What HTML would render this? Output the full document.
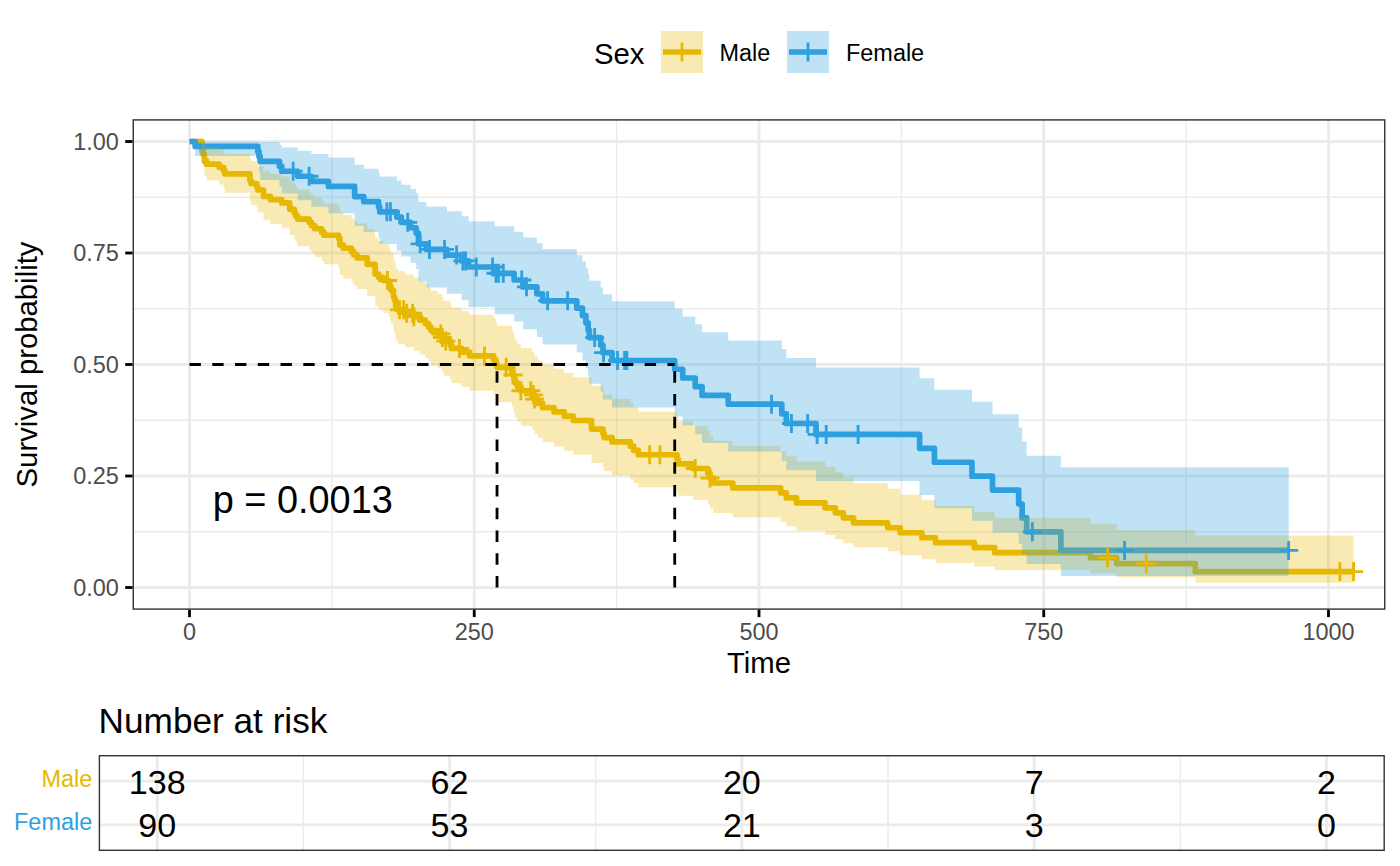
<!DOCTYPE html>
<html><head><meta charset="utf-8"><style>html,body{margin:0;padding:0;background:#fff;width:1400px;height:866px;overflow:hidden}</style></head><body>
<svg width="1400" height="866" viewBox="0 0 1400 866" style="position:absolute;left:0;top:0;display:block">
<rect x="0" y="0" width="1400" height="866" fill="#FFFFFF"/>
<defs><clipPath id="pc"><rect x="132.55" y="119.20" width="1252.90" height="490.60"/></clipPath>
<clipPath id="rc"><rect x="98.70" y="755.00" width="1286.20" height="96.00"/></clipPath></defs>
<g clip-path="url(#pc)">
<line x1="331.88" y1="119.20" x2="331.88" y2="609.80" stroke="#EBEBEB" stroke-width="1.42"/>
<line x1="616.62" y1="119.20" x2="616.62" y2="609.80" stroke="#EBEBEB" stroke-width="1.42"/>
<line x1="901.38" y1="119.20" x2="901.38" y2="609.80" stroke="#EBEBEB" stroke-width="1.42"/>
<line x1="1186.12" y1="119.20" x2="1186.12" y2="609.80" stroke="#EBEBEB" stroke-width="1.42"/>
<line x1="132.55" y1="531.75" x2="1385.45" y2="531.75" stroke="#EBEBEB" stroke-width="1.42"/>
<line x1="132.55" y1="420.25" x2="1385.45" y2="420.25" stroke="#EBEBEB" stroke-width="1.42"/>
<line x1="132.55" y1="308.75" x2="1385.45" y2="308.75" stroke="#EBEBEB" stroke-width="1.42"/>
<line x1="132.55" y1="197.25" x2="1385.45" y2="197.25" stroke="#EBEBEB" stroke-width="1.42"/>
<line x1="189.50" y1="119.20" x2="189.50" y2="609.80" stroke="#EBEBEB" stroke-width="2.84"/>
<line x1="474.25" y1="119.20" x2="474.25" y2="609.80" stroke="#EBEBEB" stroke-width="2.84"/>
<line x1="759.00" y1="119.20" x2="759.00" y2="609.80" stroke="#EBEBEB" stroke-width="2.84"/>
<line x1="1043.75" y1="119.20" x2="1043.75" y2="609.80" stroke="#EBEBEB" stroke-width="2.84"/>
<line x1="1328.50" y1="119.20" x2="1328.50" y2="609.80" stroke="#EBEBEB" stroke-width="2.84"/>
<line x1="132.55" y1="587.50" x2="1385.45" y2="587.50" stroke="#EBEBEB" stroke-width="2.84"/>
<line x1="132.55" y1="476.00" x2="1385.45" y2="476.00" stroke="#EBEBEB" stroke-width="2.84"/>
<line x1="132.55" y1="364.50" x2="1385.45" y2="364.50" stroke="#EBEBEB" stroke-width="2.84"/>
<line x1="132.55" y1="253.00" x2="1385.45" y2="253.00" stroke="#EBEBEB" stroke-width="2.84"/>
<line x1="132.55" y1="141.50" x2="1385.45" y2="141.50" stroke="#EBEBEB" stroke-width="2.84"/>
<g fill="none" stroke-linejoin="round" stroke-linecap="butt" stroke-width="5.69">
<path d="M189.50 141.50 L202.03 141.50 L202.03 151.20 L203.17 151.20 L203.17 154.43 L204.31 154.43 L204.31 160.89 L206.59 160.89 L206.59 164.12 L219.11 164.12 L219.11 167.36 L223.67 167.36 L223.67 170.59 L224.81 170.59 L224.81 173.82 L249.87 173.82 L249.87 180.28 L251.01 180.28 L251.01 183.51 L256.70 183.51 L256.70 186.75 L257.84 186.75 L257.84 189.98 L263.53 189.98 L263.53 196.44 L270.37 196.44 L270.37 199.67 L281.76 199.67 L281.76 202.91 L289.73 202.91 L289.73 209.37 L294.29 209.37 L294.29 212.60 L295.43 212.60 L295.43 215.83 L297.70 215.83 L297.70 219.07 L309.10 219.07 L309.10 222.30 L311.37 222.30 L311.37 225.53 L314.79 225.53 L314.79 228.76 L321.62 228.76 L321.62 231.99 L323.90 231.99 L323.90 235.22 L338.71 235.22 L338.71 238.46 L339.85 238.46 L339.85 244.92 L343.26 244.92 L343.26 248.15 L351.24 248.15 L351.24 251.38 L353.52 251.38 L353.52 254.62 L356.93 254.62 L356.93 257.85 L367.18 257.85 L367.18 264.31 L375.16 264.31 L375.16 274.01 L378.57 274.01 L378.57 277.24 L383.13 277.24 L383.13 280.47 L388.82 280.47 L388.82 283.74 L389.96 283.74 L389.96 287.00 L391.10 287.00 L391.10 290.27 L393.38 290.27 L393.38 296.80 L394.52 296.80 L394.52 300.07 L395.66 300.07 L395.66 306.60 L397.94 306.60 L397.94 309.87 L404.77 309.87 L404.77 313.21 L413.88 313.21 L413.88 316.64 L419.58 316.64 L419.58 320.11 L425.27 320.11 L425.27 323.59 L428.69 323.59 L428.69 327.06 L430.97 327.06 L430.97 330.53 L437.80 330.53 L437.80 334.00 L442.36 334.00 L442.36 337.52 L443.50 337.52 L443.50 341.10 L450.33 341.10 L450.33 344.77 L451.47 344.77 L451.47 348.45 L461.72 348.45 L461.72 352.19 L469.69 352.19 L469.69 355.92 L493.61 355.92 L493.61 359.72 L495.89 359.72 L495.89 363.51 L497.03 363.51 L497.03 367.31 L511.84 367.31 L511.84 371.17 L512.98 371.17 L512.98 375.04 L514.12 375.04 L514.12 378.97 L515.25 378.97 L515.25 382.91 L517.53 382.91 L517.53 386.84 L520.95 386.84 L520.95 390.77 L532.34 390.77 L532.34 394.87 L534.62 394.87 L534.62 399.06 L538.03 399.06 L538.03 403.34 L542.59 403.34 L542.59 407.63 L553.98 407.63 L553.98 411.91 L564.23 411.91 L564.23 416.19 L573.34 416.19 L573.34 420.47 L591.57 420.47 L591.57 429.04 L602.96 429.04 L602.96 433.32 L604.10 433.32 L604.10 437.60 L612.07 437.60 L612.07 441.89 L630.29 441.89 L630.29 446.17 L633.71 446.17 L633.71 450.45 L638.27 450.45 L638.27 454.74 L676.99 454.74 L676.99 459.31 L678.13 459.31 L678.13 463.89 L692.94 463.89 L692.94 468.47 L707.75 468.47 L707.75 473.23 L710.02 473.23 L710.02 477.99 L713.44 477.99 L713.44 482.97 L732.80 482.97 L732.80 487.95 L780.64 487.95 L780.64 492.93 L786.34 492.93 L786.34 497.90 L796.59 497.90 L796.59 502.88 L825.06 502.88 L825.06 507.86 L835.31 507.86 L835.31 512.84 L843.29 512.84 L843.29 517.81 L853.54 517.81 L853.54 522.79 L887.71 522.79 L887.71 527.77 L900.24 527.77 L900.24 532.75 L921.88 532.75 L921.88 537.72 L935.54 537.72 L935.54 542.70 L974.27 542.70 L974.27 547.68 L994.77 547.68 L994.77 552.66 L1090.45 552.66 L1090.45 557.63 L1116.65 557.63 L1116.65 563.61 L1195.24 563.61 L1195.24 571.57 L1353.56 571.57" stroke="#E7B800"/>
<path d="M189.50 141.50 L195.19 141.50 L195.19 146.46 L257.84 146.46 L257.84 151.41 L258.98 151.41 L258.98 156.37 L260.12 156.37 L260.12 161.32 L279.48 161.32 L279.48 166.28 L281.76 166.28 L281.76 171.23 L297.70 171.23 L297.70 176.25 L311.37 176.25 L311.37 181.33 L328.46 181.33 L328.46 186.40 L354.65 186.40 L354.65 196.56 L363.77 196.56 L363.77 201.63 L378.57 201.63 L378.57 206.71 L379.71 206.71 L379.71 211.79 L396.80 211.79 L396.80 217.08 L401.35 217.08 L401.35 222.37 L410.47 222.37 L410.47 227.74 L416.16 227.74 L416.16 233.11 L418.44 233.11 L418.44 243.85 L426.41 243.85 L426.41 249.39 L446.91 249.39 L446.91 255.12 L461.72 255.12 L461.72 260.95 L468.56 260.95 L468.56 267.00 L494.75 267.00 L494.75 273.29 L514.12 273.29 L514.12 279.97 L523.23 279.97 L523.23 286.81 L536.89 286.81 L536.89 293.80 L542.59 293.80 L542.59 300.79 L576.76 300.79 L576.76 308.14 L582.45 308.14 L582.45 315.49 L585.87 315.49 L585.87 322.85 L588.15 322.85 L588.15 330.20 L589.29 330.20 L589.29 337.55 L600.68 337.55 L600.68 345.12 L602.96 345.12 L602.96 352.70 L612.07 352.70 L612.07 360.52 L674.71 360.52 L674.71 369.25 L682.69 369.25 L682.69 377.98 L695.22 377.98 L695.22 386.71 L702.05 386.71 L702.05 395.44 L728.25 395.44 L728.25 404.17 L781.78 404.17 L781.78 413.82 L786.34 413.82 L786.34 423.47 L815.95 423.47 L815.95 434.41 L919.60 434.41 L919.60 448.32 L934.41 448.32 L934.41 462.24 L971.99 462.24 L971.99 476.16 L992.50 476.16 L992.50 490.08 L1018.69 490.08 L1018.69 503.99 L1022.11 503.99 L1022.11 517.91 L1026.66 517.91 L1026.66 531.83 L1060.84 531.83 L1060.84 550.39 L1288.63 550.39" stroke="#2E9FDF"/>
</g>
<path d="M189.50 141.50 L202.03 141.50 L202.03 141.50 L203.17 141.50 L203.17 141.76 L204.31 141.76 L204.31 145.44 L206.59 145.44 L206.59 147.48 L219.11 147.48 L219.11 149.60 L223.67 149.60 L223.67 151.80 L224.81 151.80 L224.81 154.07 L249.87 154.07 L249.87 158.77 L251.01 158.77 L251.01 161.18 L256.70 161.18 L256.70 163.64 L257.84 163.64 L257.84 166.13 L263.53 166.13 L263.53 171.21 L270.37 171.21 L270.37 173.79 L281.76 173.79 L281.76 176.39 L289.73 176.39 L289.73 181.67 L294.29 181.67 L294.29 184.35 L295.43 184.35 L295.43 187.04 L297.70 187.04 L297.70 189.75 L309.10 189.75 L309.10 192.48 L311.37 192.48 L311.37 195.23 L314.79 195.23 L314.79 197.99 L321.62 197.99 L321.62 200.77 L323.90 200.77 L323.90 203.57 L338.71 203.57 L338.71 206.37 L339.85 206.37 L339.85 212.03 L343.26 212.03 L343.26 214.88 L351.24 214.88 L351.24 217.74 L353.52 217.74 L353.52 220.61 L356.93 220.61 L356.93 223.50 L367.18 223.50 L367.18 229.30 L375.16 229.30 L375.16 238.09 L378.57 238.09 L378.57 241.04 L383.13 241.04 L383.13 244.00 L388.82 244.00 L388.82 246.99 L389.96 246.99 L389.96 250.00 L391.10 250.00 L391.10 253.01 L393.38 253.01 L393.38 259.07 L394.52 259.07 L394.52 262.11 L395.66 262.11 L395.66 268.22 L397.94 268.22 L397.94 271.29 L404.77 271.29 L404.77 274.43 L413.88 274.43 L413.88 277.64 L419.58 277.64 L419.58 280.89 L425.27 280.89 L425.27 284.15 L428.69 284.15 L428.69 287.42 L430.97 287.42 L430.97 290.70 L437.80 290.70 L437.80 294.00 L442.36 294.00 L442.36 297.34 L443.50 297.34 L443.50 300.73 L450.33 300.73 L450.33 304.20 L451.47 304.20 L451.47 307.69 L461.72 307.69 L461.72 311.24 L469.69 311.24 L469.69 314.80 L493.61 314.80 L493.61 318.41 L495.89 318.41 L495.89 322.04 L497.03 322.04 L497.03 325.69 L511.84 325.69 L511.84 329.39 L512.98 329.39 L512.98 333.12 L514.12 333.12 L514.12 336.90 L515.25 336.90 L515.25 340.71 L517.53 340.71 L517.53 344.53 L520.95 344.53 L520.95 348.36 L532.34 348.36 L532.34 352.33 L534.62 352.33 L534.62 356.38 L538.03 356.38 L538.03 360.52 L542.59 360.52 L542.59 364.68 L553.98 364.68 L553.98 368.87 L564.23 368.87 L564.23 373.07 L573.34 373.07 L573.34 377.29 L591.57 377.29 L591.57 385.81 L602.96 385.81 L602.96 390.10 L604.10 390.10 L604.10 394.41 L612.07 394.41 L612.07 398.74 L630.29 398.74 L630.29 403.09 L633.71 403.09 L633.71 407.47 L638.27 407.47 L638.27 411.87 L676.99 411.87 L676.99 416.51 L678.13 416.51 L678.13 421.18 L692.94 421.18 L692.94 425.88 L707.75 425.88 L707.75 430.74 L710.02 430.74 L710.02 435.63 L713.44 435.63 L713.44 440.72 L732.80 440.72 L732.80 445.85 L780.64 445.85 L780.64 451.03 L786.34 451.03 L786.34 456.25 L796.59 456.25 L796.59 461.53 L825.06 461.53 L825.06 466.87 L835.31 466.87 L835.31 472.25 L843.29 472.25 L843.29 477.70 L853.54 477.70 L853.54 483.21 L887.71 483.21 L887.71 488.78 L900.24 488.78 L900.24 494.42 L921.88 494.42 L921.88 500.14 L935.54 500.14 L935.54 505.93 L974.27 505.93 L974.27 511.81 L994.77 511.81 L994.77 517.78 L1090.45 517.78 L1090.45 523.85 L1116.65 523.85 L1116.65 530.22 L1195.24 530.22 L1195.24 535.39 L1353.56 535.39 L1353.56 582.63 L1195.24 582.63 L1195.24 577.53 L1116.65 577.53 L1116.65 573.49 L1090.45 573.49 L1090.45 570.09 L994.77 570.09 L994.77 566.55 L974.27 566.55 L974.27 562.90 L935.54 562.90 L935.54 559.14 L921.88 559.14 L921.88 555.29 L900.24 555.29 L900.24 551.36 L887.71 551.36 L887.71 547.35 L853.54 547.35 L853.54 543.27 L843.29 543.27 L843.29 539.13 L835.31 539.13 L835.31 534.92 L825.06 534.92 L825.06 530.66 L796.59 530.66 L796.59 526.34 L786.34 526.34 L786.34 521.96 L780.64 521.96 L780.64 517.54 L732.80 517.54 L732.80 513.06 L713.44 513.06 L713.44 508.54 L710.02 508.54 L710.02 504.21 L707.75 504.21 L707.75 499.84 L692.94 499.84 L692.94 495.64 L678.13 495.64 L678.13 491.40 L676.99 491.40 L676.99 487.14 L638.27 487.14 L638.27 483.17 L633.71 483.17 L633.71 479.18 L630.29 479.18 L630.29 475.17 L612.07 475.17 L612.07 471.14 L604.10 471.14 L604.10 467.08 L602.96 467.08 L602.96 463.00 L591.57 463.00 L591.57 454.78 L573.34 454.78 L573.34 450.64 L564.23 450.64 L564.23 446.48 L553.98 446.48 L553.98 442.29 L542.59 442.29 L542.59 438.09 L538.03 438.09 L538.03 433.86 L534.62 433.86 L534.62 429.72 L532.34 429.72 L532.34 425.67 L520.95 425.67 L520.95 421.78 L517.53 421.78 L517.53 417.89 L515.25 417.89 L515.25 413.98 L514.12 413.98 L514.12 410.05 L512.98 410.05 L512.98 406.19 L511.84 406.19 L511.84 402.32 L497.03 402.32 L497.03 398.51 L495.89 398.51 L495.89 394.68 L493.61 394.68 L493.61 390.84 L469.69 390.84 L469.69 387.06 L461.72 387.06 L461.72 383.27 L451.47 383.27 L451.47 379.53 L450.33 379.53 L450.33 375.78 L443.50 375.78 L443.50 372.15 L442.36 372.15 L442.36 368.56 L437.80 368.56 L437.80 365.01 L430.97 365.01 L430.97 361.46 L428.69 361.46 L428.69 357.90 L425.27 357.90 L425.27 354.32 L419.58 354.32 L419.58 350.74 L413.88 350.74 L413.88 347.19 L404.77 347.19 L404.77 343.74 L397.94 343.74 L397.94 340.37 L395.66 340.37 L395.66 333.60 L394.52 333.60 L394.52 330.20 L393.38 330.20 L393.38 323.38 L391.10 323.38 L391.10 319.95 L389.96 319.95 L389.96 316.52 L388.82 316.52 L388.82 313.07 L383.13 313.07 L383.13 309.66 L378.57 309.66 L378.57 306.23 L375.16 306.23 L375.16 295.90 L367.18 295.90 L367.18 288.96 L356.93 288.96 L356.93 285.47 L353.52 285.47 L353.52 281.97 L351.24 281.97 L351.24 278.45 L343.26 278.45 L343.26 274.93 L339.85 274.93 L339.85 267.84 L338.71 267.84 L338.71 264.27 L323.90 264.27 L323.90 260.69 L321.62 260.69 L321.62 257.10 L314.79 257.10 L314.79 253.49 L311.37 253.49 L311.37 249.86 L309.10 249.86 L309.10 246.22 L297.70 246.22 L297.70 242.56 L295.43 242.56 L295.43 238.88 L294.29 238.88 L294.29 235.17 L289.73 235.17 L289.73 227.71 L281.76 227.71 L281.76 223.94 L270.37 223.94 L270.37 220.15 L263.53 220.15 L263.53 212.48 L257.84 212.48 L257.84 208.59 L256.70 208.59 L256.70 204.68 L251.01 204.68 L251.01 200.72 L249.87 200.72 L249.87 192.67 L224.81 192.67 L224.81 188.56 L223.67 188.56 L223.67 184.39 L219.11 184.39 L219.11 180.14 L206.59 180.14 L206.59 175.80 L204.31 175.80 L204.31 166.73 L203.17 166.73 L203.17 161.91 L202.03 161.91 L202.03 141.50 L189.50 141.50Z" fill="#E7B800" fill-opacity="0.3"/>
<path d="M189.50 141.50 L195.19 141.50 L195.19 141.50 L257.84 141.50 L257.84 141.50 L258.98 141.50 L258.98 141.50 L260.12 141.50 L260.12 141.90 L279.48 141.90 L279.48 144.63 L281.76 144.63 L281.76 147.60 L297.70 147.60 L297.70 150.77 L311.37 150.77 L311.37 154.11 L328.46 154.11 L328.46 157.59 L354.65 157.59 L354.65 164.86 L363.77 164.86 L363.77 168.64 L378.57 168.64 L378.57 172.49 L379.71 172.49 L379.71 176.41 L396.80 176.41 L396.80 180.49 L401.35 180.49 L401.35 184.65 L410.47 184.65 L410.47 188.90 L416.16 188.90 L416.16 193.22 L418.44 193.22 L418.44 202.01 L426.41 202.01 L426.41 206.58 L446.91 206.58 L446.91 211.30 L461.72 211.30 L461.72 216.14 L468.56 216.14 L468.56 221.15 L494.75 221.15 L494.75 226.34 L514.12 226.34 L514.12 231.81 L523.23 231.81 L523.23 237.44 L536.89 237.44 L536.89 243.23 L542.59 243.23 L542.59 249.11 L576.76 249.11 L576.76 255.26 L582.45 255.26 L582.45 261.50 L585.87 261.50 L585.87 267.83 L588.15 267.83 L588.15 274.24 L589.29 274.24 L589.29 280.74 L600.68 280.74 L600.68 287.43 L602.96 287.43 L602.96 294.22 L612.07 294.22 L612.07 301.23 L674.71 301.23 L674.71 308.80 L682.69 308.80 L682.69 316.51 L695.22 316.51 L695.22 324.36 L702.05 324.36 L702.05 332.33 L728.25 332.33 L728.25 340.43 L781.78 340.43 L781.78 349.12 L786.34 349.12 L786.34 357.99 L815.95 357.99 L815.95 367.60 L919.60 367.60 L919.60 378.31 L934.41 378.31 L934.41 389.70 L971.99 389.70 L971.99 401.72 L992.50 401.72 L992.50 414.36 L1018.69 414.36 L1018.69 427.58 L1022.11 427.58 L1022.11 441.39 L1026.66 441.39 L1026.66 455.74 L1060.84 455.74 L1060.84 467.22 L1288.63 467.22 L1288.63 576.05 L1060.84 576.05 L1060.84 563.98 L1026.66 563.98 L1026.66 554.36 L1022.11 554.36 L1022.11 543.89 L1018.69 543.89 L1018.69 532.68 L992.50 532.68 L992.50 520.77 L971.99 520.77 L971.99 508.18 L934.41 508.18 L934.41 494.90 L919.60 494.90 L919.60 480.92 L815.95 480.92 L815.95 470.27 L786.34 470.27 L786.34 460.96 L781.78 460.96 L781.78 451.47 L728.25 451.47 L728.25 442.95 L702.05 442.95 L702.05 434.29 L695.22 434.29 L695.22 425.51 L682.69 425.51 L682.69 416.59 L674.71 416.59 L674.71 407.54 L612.07 407.54 L612.07 399.52 L602.96 399.52 L602.96 391.72 L600.68 391.72 L600.68 383.84 L589.29 383.84 L589.29 376.16 L588.15 376.16 L588.15 368.39 L585.87 368.39 L585.87 360.55 L582.45 360.55 L582.45 352.61 L576.76 352.61 L576.76 344.58 L542.59 344.58 L542.59 336.94 L536.89 336.94 L536.89 329.21 L523.23 329.21 L523.23 321.61 L514.12 321.61 L514.12 314.13 L494.75 314.13 L494.75 307.12 L468.56 307.12 L468.56 300.36 L461.72 300.36 L461.72 293.84 L446.91 293.84 L446.91 287.39 L426.41 287.39 L426.41 281.15 L418.44 281.15 L418.44 268.97 L416.16 268.97 L416.16 262.80 L410.47 262.80 L410.47 256.56 L401.35 256.56 L401.35 250.38 L396.80 250.38 L396.80 244.12 L379.71 244.12 L379.71 238.11 L378.57 238.11 L378.57 232.03 L363.77 232.03 L363.77 225.88 L354.65 225.88 L354.65 213.29 L328.46 213.29 L328.46 206.83 L311.37 206.83 L311.37 200.24 L297.70 200.24 L297.70 193.59 L281.76 193.59 L281.76 186.86 L279.48 186.86 L279.48 179.89 L260.12 179.89 L260.12 172.59 L258.98 172.59 L258.98 164.78 L257.84 164.78 L257.84 156.01 L195.19 156.01 L195.19 141.50 L189.50 141.50Z" fill="#2E9FDF" fill-opacity="0.3"/>
<path d="M377.96 280.47H396.96M387.46 270.97V289.97" stroke="#E7B800" stroke-width="2.84" fill="none"/>
<path d="M390.03 309.87H409.03M399.53 300.37V319.37" stroke="#E7B800" stroke-width="2.84" fill="none"/>
<path d="M394.13 309.87H413.13M403.63 300.37V319.37" stroke="#E7B800" stroke-width="2.84" fill="none"/>
<path d="M397.21 313.21H416.21M406.71 303.71V322.71" stroke="#E7B800" stroke-width="2.84" fill="none"/>
<path d="M403.13 313.21H422.13M412.63 303.71V322.71" stroke="#E7B800" stroke-width="2.84" fill="none"/>
<path d="M404.38 316.64H423.38M413.88 307.14V326.14" stroke="#E7B800" stroke-width="2.84" fill="none"/>
<path d="M431.38 334.00H450.38M440.88 324.50V343.50" stroke="#E7B800" stroke-width="2.84" fill="none"/>
<path d="M432.86 337.52H451.86M442.36 328.02V347.02" stroke="#E7B800" stroke-width="2.84" fill="none"/>
<path d="M436.27 341.10H455.27M445.77 331.60V350.60" stroke="#E7B800" stroke-width="2.84" fill="none"/>
<path d="M449.94 348.45H468.94M459.44 338.95V357.95" stroke="#E7B800" stroke-width="2.84" fill="none"/>
<path d="M475.00 355.92H494.00M484.50 346.42V365.42" stroke="#E7B800" stroke-width="2.84" fill="none"/>
<path d="M496.64 367.31H515.64M506.14 357.81V376.81" stroke="#E7B800" stroke-width="2.84" fill="none"/>
<path d="M503.48 375.04H522.48M512.98 365.54V384.54" stroke="#E7B800" stroke-width="2.84" fill="none"/>
<path d="M511.45 390.77H530.45M520.95 381.27V400.27" stroke="#E7B800" stroke-width="2.84" fill="none"/>
<path d="M521.24 390.77H540.24M530.74 381.27V400.27" stroke="#E7B800" stroke-width="2.84" fill="none"/>
<path d="M523.98 394.87H542.98M533.48 385.37V404.37" stroke="#E7B800" stroke-width="2.84" fill="none"/>
<path d="M525.12 399.06H544.12M534.62 389.56V408.56" stroke="#E7B800" stroke-width="2.84" fill="none"/>
<path d="M640.16 454.74H659.16M649.66 445.24V464.24" stroke="#E7B800" stroke-width="2.84" fill="none"/>
<path d="M650.41 454.74H669.41M659.91 445.24V464.24" stroke="#E7B800" stroke-width="2.84" fill="none"/>
<path d="M685.72 468.47H704.72M695.22 458.97V477.97" stroke="#E7B800" stroke-width="2.84" fill="none"/>
<path d="M700.52 477.99H719.52M710.02 468.49V487.49" stroke="#E7B800" stroke-width="2.84" fill="none"/>
<path d="M1098.03 557.63H1117.03M1107.53 548.13V567.13" stroke="#E7B800" stroke-width="2.84" fill="none"/>
<path d="M1136.76 563.61H1155.76M1146.26 554.11V573.11" stroke="#E7B800" stroke-width="2.84" fill="none"/>
<path d="M1330.39 571.57H1349.39M1339.89 562.07V581.07" stroke="#E7B800" stroke-width="2.84" fill="none"/>
<path d="M1344.06 571.57H1363.06M1353.56 562.07V581.07" stroke="#E7B800" stroke-width="2.84" fill="none"/>
<path d="M283.65 171.23H302.65M293.15 161.73V180.73" stroke="#2E9FDF" stroke-width="2.84" fill="none"/>
<path d="M299.60 176.25H318.60M309.10 166.75V185.75" stroke="#2E9FDF" stroke-width="2.84" fill="none"/>
<path d="M377.39 211.79H396.39M386.89 202.29V221.29" stroke="#2E9FDF" stroke-width="2.84" fill="none"/>
<path d="M380.92 211.79H399.92M390.42 202.29V221.29" stroke="#2E9FDF" stroke-width="2.84" fill="none"/>
<path d="M398.23 222.37H417.23M407.73 212.87V231.87" stroke="#2E9FDF" stroke-width="2.84" fill="none"/>
<path d="M410.65 243.85H429.65M420.15 234.35V253.35" stroke="#2E9FDF" stroke-width="2.84" fill="none"/>
<path d="M419.99 249.39H438.99M429.49 239.89V258.89" stroke="#2E9FDF" stroke-width="2.84" fill="none"/>
<path d="M435.02 249.39H454.02M444.52 239.89V258.89" stroke="#2E9FDF" stroke-width="2.84" fill="none"/>
<path d="M447.10 255.12H466.10M456.60 245.62V264.62" stroke="#2E9FDF" stroke-width="2.84" fill="none"/>
<path d="M453.36 260.95H472.36M462.86 251.45V270.45" stroke="#2E9FDF" stroke-width="2.84" fill="none"/>
<path d="M456.09 260.95H475.09M465.59 251.45V270.45" stroke="#2E9FDF" stroke-width="2.84" fill="none"/>
<path d="M466.80 267.00H485.80M476.30 257.50V276.50" stroke="#2E9FDF" stroke-width="2.84" fill="none"/>
<path d="M483.09 267.00H502.09M492.59 257.50V276.50" stroke="#2E9FDF" stroke-width="2.84" fill="none"/>
<path d="M486.39 273.29H505.39M495.89 263.79V282.79" stroke="#2E9FDF" stroke-width="2.84" fill="none"/>
<path d="M489.01 273.29H508.01M498.51 263.79V282.79" stroke="#2E9FDF" stroke-width="2.84" fill="none"/>
<path d="M493.79 273.29H512.79M503.29 263.79V282.79" stroke="#2E9FDF" stroke-width="2.84" fill="none"/>
<path d="M512.25 279.97H531.25M521.75 270.47V289.47" stroke="#2E9FDF" stroke-width="2.84" fill="none"/>
<path d="M517.03 286.81H536.03M526.53 277.31V296.31" stroke="#2E9FDF" stroke-width="2.84" fill="none"/>
<path d="M538.10 300.79H557.10M547.60 291.29V310.29" stroke="#2E9FDF" stroke-width="2.84" fill="none"/>
<path d="M558.15 300.79H577.15M567.65 291.29V310.29" stroke="#2E9FDF" stroke-width="2.84" fill="none"/>
<path d="M585.14 337.55H604.14M594.64 328.05V347.05" stroke="#2E9FDF" stroke-width="2.84" fill="none"/>
<path d="M594.03 352.70H613.03M603.53 343.20V362.20" stroke="#2E9FDF" stroke-width="2.84" fill="none"/>
<path d="M608.04 360.52H627.04M617.54 351.02V370.02" stroke="#2E9FDF" stroke-width="2.84" fill="none"/>
<path d="M615.10 360.52H634.10M624.60 351.02V370.02" stroke="#2E9FDF" stroke-width="2.84" fill="none"/>
<path d="M617.38 360.52H636.38M626.88 351.02V370.02" stroke="#2E9FDF" stroke-width="2.84" fill="none"/>
<path d="M762.03 404.17H781.03M771.53 394.67V413.67" stroke="#2E9FDF" stroke-width="2.84" fill="none"/>
<path d="M781.96 423.47H800.96M791.46 413.97V432.97" stroke="#2E9FDF" stroke-width="2.84" fill="none"/>
<path d="M798.14 423.47H817.14M807.64 413.97V432.97" stroke="#2E9FDF" stroke-width="2.84" fill="none"/>
<path d="M807.59 434.41H826.59M817.09 424.91V443.91" stroke="#2E9FDF" stroke-width="2.84" fill="none"/>
<path d="M816.70 434.41H835.70M826.20 424.91V443.91" stroke="#2E9FDF" stroke-width="2.84" fill="none"/>
<path d="M848.59 434.41H867.59M858.09 424.91V443.91" stroke="#2E9FDF" stroke-width="2.84" fill="none"/>
<path d="M1022.86 531.83H1041.86M1032.36 522.33V541.33" stroke="#2E9FDF" stroke-width="2.84" fill="none"/>
<path d="M1115.12 550.39H1134.12M1124.62 540.89V559.89" stroke="#2E9FDF" stroke-width="2.84" fill="none"/>
<path d="M1279.13 550.39H1298.13M1288.63 540.89V559.89" stroke="#2E9FDF" stroke-width="2.84" fill="none"/>
<g stroke="#000000" stroke-width="2.84" stroke-dasharray="11.38 11.38" fill="none">
<path d="M189.50 364.50H674.71"/>
<path d="M497.03 587.50V364.50"/>
<path d="M674.71 587.50V364.50"/>
</g>
<text x="212.7" y="512.8" font-family="Liberation Sans" font-size="37.9" fill="#000">p = 0.0013</text>
</g>
<rect x="133.26" y="119.91" width="1251.48" height="489.18" fill="none" stroke="#333333" stroke-width="1.42"/>
<line x1="125.22" y1="587.50" x2="132.55" y2="587.50" stroke="#000000" stroke-width="2.84"/>
<text x="118.8" y="595.70" text-anchor="end" font-family="Liberation Sans" font-size="23.45" fill="#4D4D4D">0.00</text>
<line x1="125.22" y1="476.00" x2="132.55" y2="476.00" stroke="#000000" stroke-width="2.84"/>
<text x="118.8" y="484.20" text-anchor="end" font-family="Liberation Sans" font-size="23.45" fill="#4D4D4D">0.25</text>
<line x1="125.22" y1="364.50" x2="132.55" y2="364.50" stroke="#000000" stroke-width="2.84"/>
<text x="118.8" y="372.70" text-anchor="end" font-family="Liberation Sans" font-size="23.45" fill="#4D4D4D">0.50</text>
<line x1="125.22" y1="253.00" x2="132.55" y2="253.00" stroke="#000000" stroke-width="2.84"/>
<text x="118.8" y="261.20" text-anchor="end" font-family="Liberation Sans" font-size="23.45" fill="#4D4D4D">0.75</text>
<line x1="125.22" y1="141.50" x2="132.55" y2="141.50" stroke="#000000" stroke-width="2.84"/>
<text x="118.8" y="149.70" text-anchor="end" font-family="Liberation Sans" font-size="23.45" fill="#4D4D4D">1.00</text>
<line x1="189.50" y1="609.80" x2="189.50" y2="617.13" stroke="#000000" stroke-width="2.84"/>
<text x="189.50" y="639.6" text-anchor="middle" font-family="Liberation Sans" font-size="23.45" fill="#4D4D4D">0</text>
<line x1="474.25" y1="609.80" x2="474.25" y2="617.13" stroke="#000000" stroke-width="2.84"/>
<text x="474.25" y="639.6" text-anchor="middle" font-family="Liberation Sans" font-size="23.45" fill="#4D4D4D">250</text>
<line x1="759.00" y1="609.80" x2="759.00" y2="617.13" stroke="#000000" stroke-width="2.84"/>
<text x="759.00" y="639.6" text-anchor="middle" font-family="Liberation Sans" font-size="23.45" fill="#4D4D4D">500</text>
<line x1="1043.75" y1="609.80" x2="1043.75" y2="617.13" stroke="#000000" stroke-width="2.84"/>
<text x="1043.75" y="639.6" text-anchor="middle" font-family="Liberation Sans" font-size="23.45" fill="#4D4D4D">750</text>
<line x1="1328.50" y1="609.80" x2="1328.50" y2="617.13" stroke="#000000" stroke-width="2.84"/>
<text x="1328.50" y="639.6" text-anchor="middle" font-family="Liberation Sans" font-size="23.45" fill="#4D4D4D">1000</text>
<text x="759" y="672.8" text-anchor="middle" font-family="Liberation Sans" font-size="29.3" fill="#000">Time</text>
<text transform="translate(36.5 364.5) rotate(-90)" x="0" y="0" text-anchor="middle" font-family="Liberation Sans" font-size="29.3" fill="#000">Survival probability</text>
<text x="594" y="63.6" font-family="Liberation Sans" font-size="29.3" fill="#000">Sex</text>
<rect x="661" y="31" width="42" height="42" fill="#E7B800" fill-opacity="0.3"/>
<line x1="663.00" y1="52" x2="701.00" y2="52" stroke="#E7B800" stroke-width="5.69"/>
<path d="M672.50 52.00H691.50M682.00 42.50V61.50" stroke="#E7B800" stroke-width="2.84" fill="none"/>
<text x="719.5" y="61" font-family="Liberation Sans" font-size="23.45" fill="#000">Male</text>
<rect x="787" y="31" width="42" height="42" fill="#2E9FDF" fill-opacity="0.3"/>
<line x1="789.00" y1="52" x2="827.00" y2="52" stroke="#2E9FDF" stroke-width="5.69"/>
<path d="M798.50 52.00H817.50M808.00 42.50V61.50" stroke="#2E9FDF" stroke-width="2.84" fill="none"/>
<text x="846.0" y="61" font-family="Liberation Sans" font-size="23.45" fill="#000">Female</text>
<text x="98.6" y="732.6" font-family="Liberation Sans" font-size="35.2" fill="#000">Number at risk</text>
<g clip-path="url(#rc)">
<line x1="303.36" y1="755.00" x2="303.36" y2="851.00" stroke="#EBEBEB" stroke-width="1.42"/>
<line x1="595.69" y1="755.00" x2="595.69" y2="851.00" stroke="#EBEBEB" stroke-width="1.42"/>
<line x1="888.01" y1="755.00" x2="888.01" y2="851.00" stroke="#EBEBEB" stroke-width="1.42"/>
<line x1="1180.34" y1="755.00" x2="1180.34" y2="851.00" stroke="#EBEBEB" stroke-width="1.42"/>
<line x1="157.20" y1="755.00" x2="157.20" y2="851.00" stroke="#EBEBEB" stroke-width="2.84"/>
<line x1="449.52" y1="755.00" x2="449.52" y2="851.00" stroke="#EBEBEB" stroke-width="2.84"/>
<line x1="741.85" y1="755.00" x2="741.85" y2="851.00" stroke="#EBEBEB" stroke-width="2.84"/>
<line x1="1034.17" y1="755.00" x2="1034.17" y2="851.00" stroke="#EBEBEB" stroke-width="2.84"/>
<line x1="1326.50" y1="755.00" x2="1326.50" y2="851.00" stroke="#EBEBEB" stroke-width="2.84"/>
<line x1="98.70" y1="781.20" x2="1384.90" y2="781.20" stroke="#EBEBEB" stroke-width="2.84"/>
<line x1="98.70" y1="824.80" x2="1384.90" y2="824.80" stroke="#EBEBEB" stroke-width="2.84"/>
<text x="157.20" y="793.50" text-anchor="middle" font-family="Liberation Sans" font-size="34.1" fill="#000">138</text>
<text x="157.20" y="837.10" text-anchor="middle" font-family="Liberation Sans" font-size="34.1" fill="#000">90</text>
<text x="449.52" y="793.50" text-anchor="middle" font-family="Liberation Sans" font-size="34.1" fill="#000">62</text>
<text x="449.52" y="837.10" text-anchor="middle" font-family="Liberation Sans" font-size="34.1" fill="#000">53</text>
<text x="741.85" y="793.50" text-anchor="middle" font-family="Liberation Sans" font-size="34.1" fill="#000">20</text>
<text x="741.85" y="837.10" text-anchor="middle" font-family="Liberation Sans" font-size="34.1" fill="#000">21</text>
<text x="1034.17" y="793.50" text-anchor="middle" font-family="Liberation Sans" font-size="34.1" fill="#000">7</text>
<text x="1034.17" y="837.10" text-anchor="middle" font-family="Liberation Sans" font-size="34.1" fill="#000">3</text>
<text x="1326.50" y="793.50" text-anchor="middle" font-family="Liberation Sans" font-size="34.1" fill="#000">2</text>
<text x="1326.50" y="837.10" text-anchor="middle" font-family="Liberation Sans" font-size="34.1" fill="#000">0</text>
</g>
<rect x="99.41" y="755.71" width="1284.78" height="94.58" fill="none" stroke="#333333" stroke-width="1.42"/>
<text x="92.2" y="786.7" text-anchor="end" font-family="Liberation Sans" font-size="23.45" fill="#E7B800">Male</text>
<text x="92.2" y="829.6" text-anchor="end" font-family="Liberation Sans" font-size="23.45" fill="#2E9FDF">Female</text>
</svg>
</body></html>
